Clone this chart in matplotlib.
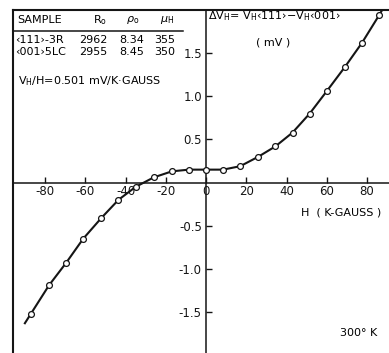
import matplotlib.pyplot as plt

# Data
field = [-87, -78, -69.5, -61, -52, -43.5, -35, -26, -17, -8.5, 0,
         8.5, 17, 26, 34.5, 43, 51.5, 60, 69, 77.5, 86]
delta_v = [-1.52, -1.19, -0.93, -0.65, -0.41, -0.20, -0.05, 0.06, 0.13, 0.15, 0.15,
           0.15, 0.19, 0.30, 0.42, 0.58, 0.80, 1.06, 1.34, 1.62, 1.94]
# curve runs a little past the first and last measured points
curve_h = [-90] + field + [87.5]
curve_v = [-1.63] + delta_v + [2.0]

xticks = [-80, -60, -40, -20, 0, 20, 40, 60, 80]
yticks = [-1.5, -1.0, -0.5, 0.5, 1.0, 1.5]

samples = ['‹111›-3R', '‹001›5LC']
r0 = ['2962', '2955']
rho0 = ['8.34', '8.45']
mu_h = ['355', '350']

ink = '#151515'
plt.rcParams['font.family'] = ['DejaVu Sans']
plt.rcParams['font.size'] = 8

fig = plt.figure(figsize=(3.89, 3.53), dpi=100)
ax = fig.add_axes([13 / 389, 0, 376 / 389, 343 / 353])

# Curve and points
ax.plot(curve_h, curve_v, color=ink, lw=1.5, zorder=2)
ax.plot(field, delta_v, 'o', ms=4.2, mfc='white', mec=ink, mew=0.9, zorder=3)

ax.set_xlim(-95.9, 90.9)
ax.set_ylim(-1.975, 2.0)

# axes through the origin, frame on top and left
ax.spines['left'].set_position(('data', 0))
ax.spines['bottom'].set_position(('data', 0))
ax.spines['right'].set_visible(False)
for s in ['left', 'bottom', 'top']:
    ax.spines[s].set_color(ink)
    ax.spines[s].set_linewidth(1.1)
ax.spines['top'].set_linewidth(1.5)
ax.axvline(ax.get_xlim()[0], color=ink, lw=1.5, clip_on=False)

ax.set_xticks(xticks)
ax.set_xticklabels([str(t) for t in xticks])
ax.set_yticks(yticks)
ax.set_yticklabels(['%.1f' % t for t in yticks])
ax.tick_params(direction='in', length=4, width=1, color=ink, labelcolor=ink,
               labelsize=8.5)
ax.tick_params(axis='x', pad=2)
ax.tick_params(axis='y', pad=3)

# Table in the upper left
ax.plot([0, 0.452], [0.939, 0.939], color=ink, lw=1.1, transform=ax.transAxes, clip_on=False)
ax.text(0.011, 0.971, 'SAMPLE', transform=ax.transAxes, va='center', ha='left')
ax.text(0.231, 0.971, r'R$_\mathrm{o}$', transform=ax.transAxes, va='center', ha='center')
ax.text(0.319, 0.971, r'$\rho_\mathrm{o}$', transform=ax.transAxes, va='center', ha='center')
ax.text(0.41, 0.971, r'$\mu_\mathrm{H}$', transform=ax.transAxes, va='center', ha='center')
for i in range(len(samples)):
    y = 0.913 - i * 0.034
    ax.text(0.005, y, samples[i], transform=ax.transAxes, va='center', ha='left')
    ax.text(0.213, y, r0[i], transform=ax.transAxes, va='center', ha='center')
    ax.text(0.316, y, rho0[i], transform=ax.transAxes, va='center', ha='center')
    ax.text(0.404, y, mu_h[i], transform=ax.transAxes, va='center', ha='center')
ax.text(0.013, 0.793, r'V$_\mathrm{H}$/H=0.501 mV/K·GAUSS', transform=ax.transAxes,
        va='center', ha='left')

# Axis labels
ax.text(0.519, 0.983,
        r'$\Delta$V$_\mathrm{H}$= V$_\mathrm{H}$‹111›$-$V$_\mathrm{H}$‹001›',
        transform=ax.transAxes, va='center', ha='left')
ax.text(0.691, 0.904, '( mV )', transform=ax.transAxes, va='center', ha='center')
ax.text(0.874, 0.411, 'H  ( K-GAUSS )', transform=ax.transAxes, va='center', ha='center')
ax.text(0.92, 0.058, '300° K', transform=ax.transAxes, va='center', ha='center')

fig.savefig('out.png', dpi=100)
